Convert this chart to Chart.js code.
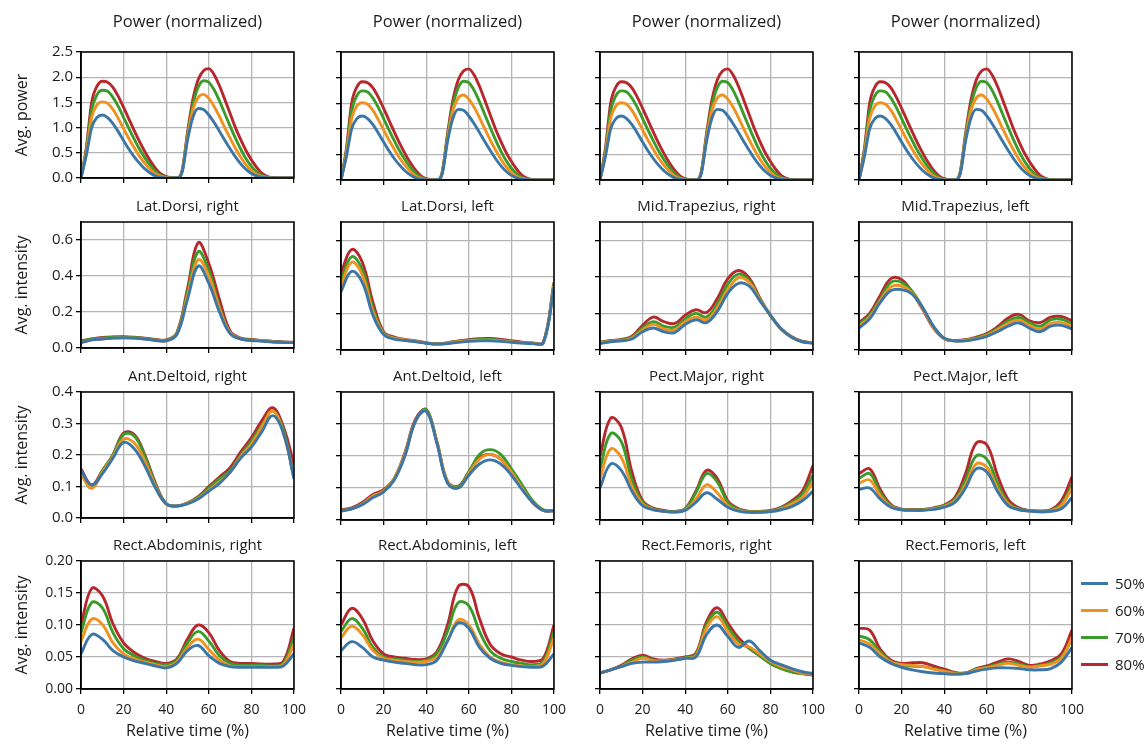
<!DOCTYPE html>
<html><head><meta charset="utf-8">
<script src="https://cdn.jsdelivr.net/npm/chart.js@4.4.1/dist/chart.umd.min.js"></script>
<style>
html,body{margin:0;padding:0;background:#fff;}
body{width:1148px;height:745px;position:relative;overflow:hidden;font-family:'Open Sans','Noto Sans',sans-serif;}
canvas{position:absolute;}
.leg-item{position:absolute;left:1081px;height:20px;display:flex;align-items:center;font-size:15px;color:#1c1c1c;white-space:nowrap;}
.leg-swatch{width:27px;height:3px;margin-right:7px;}
</style></head><body>
<script>
// ---------- series ----------
const SERIES_LABELS = ['50%', '60%', '70%', '80%'];
const SERIES_COLORS = ['#3b76a6', '#ef921f', '#3a9b2b', '#b7282e'];

// ---------- x values ----------
const X_POWER = [0,2.5,5,7.5,10,12.5,15,17.5,20,22.5,25,27.5,30,32.5,35,37.5,40,42.5,45,47.5,50,52.5,55,57.5,60,62.5,65,67.5,70,72.5,75,77.5,80,82.5,85,87.5,90,92.5,95,97.5,100];
const X_MUSCLE = [0,5,10,15,20,25,30,35,40,45,50,55,60,65,70,75,80,85,90,95,100];

// ---------- Power (normalized) ----------
const power50 = [0,0.45,1.0,1.2,1.25,1.2,1.08,0.92,0.74,0.57,0.42,0.29,0.18,0.1,0.04,0.01,0,0,0,0.12,0.75,1.2,1.38,1.36,1.25,1.1,0.93,0.75,0.58,0.42,0.28,0.17,0.09,0.04,0.015,0.005,0,0,0,0,0];
const power60 = [0,0.5,1.2,1.45,1.51,1.48,1.36,1.18,0.98,0.78,0.6,0.43,0.29,0.17,0.08,0.03,0.01,0,0,0.13,0.8,1.35,1.6,1.66,1.58,1.42,1.22,1.0,0.79,0.59,0.41,0.26,0.15,0.07,0.03,0.01,0,0,0,0,0];
const power70 = [0,0.55,1.35,1.65,1.74,1.72,1.6,1.42,1.2,0.98,0.77,0.57,0.4,0.25,0.13,0.05,0.015,0,0,0.14,0.85,1.45,1.8,1.93,1.9,1.75,1.53,1.28,1.03,0.79,0.57,0.38,0.23,0.12,0.05,0.02,0.005,0,0,0,0];
const power80 = [0,0.6,1.5,1.82,1.92,1.9,1.8,1.62,1.4,1.17,0.94,0.72,0.52,0.34,0.19,0.08,0.025,0.005,0,0.15,0.9,1.55,1.95,2.13,2.17,2.05,1.83,1.56,1.28,1.0,0.76,0.54,0.36,0.21,0.09,0.03,0.01,0,0,0,0];

// ---------- Lat.Dorsi, right ----------
const latDorsiR50 = [0.03,0.045,0.05,0.055,0.057,0.055,0.05,0.042,0.04,0.075,0.27,0.455,0.36,0.2,0.08,0.05,0.042,0.038,0.033,0.03,0.03];
const latDorsiR60 = [0.03,0.045,0.05,0.055,0.057,0.055,0.05,0.043,0.04,0.078,0.29,0.49,0.4,0.22,0.085,0.05,0.043,0.04,0.035,0.03,0.03];
const latDorsiR70 = [0.035,0.05,0.055,0.06,0.06,0.058,0.052,0.045,0.042,0.082,0.31,0.535,0.43,0.23,0.085,0.052,0.045,0.04,0.035,0.032,0.03];
const latDorsiR80 = [0.04,0.05,0.058,0.062,0.063,0.06,0.055,0.047,0.045,0.085,0.33,0.585,0.47,0.27,0.095,0.055,0.047,0.042,0.037,0.033,0.032];

// ---------- Lat.Dorsi, left ----------
const latDorsiL50 = [0.32,0.43,0.37,0.19,0.085,0.06,0.052,0.045,0.037,0.032,0.035,0.042,0.047,0.05,0.05,0.047,0.042,0.038,0.035,0.04,0.34];
const latDorsiL60 = [0.35,0.48,0.41,0.21,0.09,0.065,0.055,0.047,0.038,0.032,0.037,0.045,0.05,0.053,0.054,0.05,0.044,0.04,0.036,0.04,0.35];
const latDorsiL70 = [0.38,0.51,0.44,0.23,0.095,0.065,0.055,0.047,0.038,0.033,0.038,0.047,0.053,0.057,0.058,0.053,0.046,0.041,0.037,0.04,0.36];
const latDorsiL80 = [0.42,0.55,0.48,0.26,0.1,0.07,0.058,0.05,0.04,0.034,0.04,0.05,0.057,0.062,0.063,0.058,0.05,0.043,0.038,0.042,0.37];

// ---------- Mid.Trapezius, right ----------
const midTrapR50 = [0.035,0.045,0.05,0.06,0.1,0.12,0.1,0.095,0.14,0.165,0.15,0.21,0.31,0.365,0.35,0.27,0.19,0.115,0.07,0.045,0.038];
const midTrapR60 = [0.038,0.048,0.052,0.065,0.11,0.14,0.115,0.11,0.155,0.18,0.165,0.23,0.33,0.395,0.37,0.275,0.19,0.115,0.07,0.045,0.04];
const midTrapR70 = [0.04,0.05,0.055,0.07,0.12,0.155,0.13,0.125,0.17,0.2,0.18,0.25,0.36,0.415,0.38,0.28,0.19,0.115,0.07,0.046,0.04];
const midTrapR80 = [0.042,0.052,0.058,0.075,0.135,0.18,0.155,0.145,0.19,0.22,0.205,0.28,0.39,0.435,0.395,0.285,0.19,0.117,0.072,0.047,0.04];

// ---------- Mid.Trapezius, left ----------
const midTrapL50 = [0.12,0.17,0.26,0.325,0.33,0.305,0.23,0.13,0.065,0.05,0.05,0.06,0.075,0.1,0.13,0.148,0.12,0.1,0.13,0.135,0.115];
const midTrapL60 = [0.13,0.18,0.27,0.345,0.35,0.31,0.225,0.125,0.063,0.05,0.052,0.063,0.08,0.11,0.145,0.163,0.135,0.115,0.145,0.15,0.13];
const midTrapL70 = [0.14,0.19,0.28,0.37,0.37,0.32,0.23,0.125,0.063,0.05,0.054,0.066,0.084,0.118,0.158,0.178,0.15,0.13,0.165,0.168,0.145];
const midTrapL80 = [0.15,0.2,0.3,0.39,0.385,0.315,0.22,0.12,0.062,0.052,0.056,0.07,0.09,0.127,0.175,0.195,0.16,0.15,0.18,0.183,0.16];

// ---------- Ant.Deltoid, right ----------
const antDeltR50 = [0.15,0.105,0.14,0.19,0.24,0.22,0.165,0.095,0.045,0.038,0.045,0.06,0.085,0.11,0.145,0.19,0.225,0.275,0.325,0.27,0.125];
const antDeltR60 = [0.14,0.095,0.145,0.195,0.25,0.238,0.18,0.1,0.045,0.038,0.047,0.062,0.088,0.115,0.145,0.195,0.235,0.29,0.34,0.27,0.13];
const antDeltR70 = [0.14,0.095,0.15,0.2,0.265,0.26,0.195,0.105,0.045,0.038,0.048,0.065,0.095,0.125,0.15,0.2,0.245,0.295,0.34,0.28,0.125];
const antDeltR80 = [0.155,0.105,0.15,0.2,0.27,0.265,0.2,0.11,0.045,0.038,0.048,0.068,0.1,0.13,0.16,0.21,0.255,0.31,0.35,0.29,0.17];

// ---------- Ant.Deltoid, left ----------
const antDeltL50 = [0.028,0.035,0.048,0.07,0.088,0.125,0.2,0.31,0.34,0.24,0.115,0.1,0.14,0.175,0.188,0.175,0.14,0.095,0.055,0.03,0.028];
const antDeltL60 = [0.03,0.035,0.05,0.075,0.09,0.13,0.205,0.31,0.34,0.245,0.12,0.1,0.145,0.19,0.205,0.19,0.15,0.1,0.055,0.03,0.028];
const antDeltL70 = [0.03,0.035,0.05,0.075,0.09,0.13,0.205,0.31,0.345,0.245,0.12,0.105,0.15,0.205,0.22,0.205,0.16,0.11,0.06,0.032,0.03];
const antDeltL80 = [0.032,0.038,0.055,0.08,0.095,0.13,0.21,0.315,0.345,0.245,0.12,0.105,0.15,0.195,0.205,0.19,0.15,0.1,0.055,0.03,0.03];

// ---------- Pect.Major, right ----------
const pectMajR50 = [0.1,0.175,0.155,0.09,0.045,0.032,0.027,0.025,0.03,0.055,0.085,0.065,0.04,0.028,0.024,0.024,0.026,0.032,0.042,0.06,0.09];
const pectMajR60 = [0.13,0.222,0.195,0.105,0.05,0.033,0.027,0.025,0.032,0.065,0.11,0.085,0.045,0.03,0.025,0.025,0.027,0.035,0.05,0.07,0.12];
const pectMajR70 = [0.16,0.27,0.245,0.125,0.055,0.035,0.028,0.026,0.034,0.085,0.145,0.12,0.055,0.033,0.026,0.026,0.028,0.038,0.055,0.08,0.14];
const pectMajR80 = [0.2,0.318,0.29,0.15,0.06,0.037,0.03,0.027,0.036,0.09,0.155,0.13,0.06,0.035,0.027,0.027,0.03,0.04,0.06,0.09,0.17];

// ---------- Pect.Major, left ----------
const pectMajL50 = [0.095,0.1,0.065,0.04,0.032,0.03,0.03,0.033,0.04,0.055,0.1,0.16,0.15,0.09,0.045,0.032,0.028,0.026,0.027,0.035,0.07];
const pectMajL60 = [0.115,0.125,0.075,0.042,0.032,0.03,0.031,0.035,0.043,0.06,0.11,0.175,0.165,0.1,0.05,0.033,0.028,0.026,0.028,0.045,0.1];
const pectMajL70 = [0.13,0.145,0.085,0.045,0.033,0.031,0.032,0.037,0.045,0.065,0.125,0.2,0.19,0.115,0.055,0.035,0.03,0.027,0.03,0.05,0.11];
const pectMajL80 = [0.145,0.16,0.095,0.048,0.034,0.032,0.033,0.038,0.047,0.07,0.145,0.24,0.235,0.14,0.065,0.038,0.03,0.028,0.032,0.06,0.135];

// ---------- Rect.Abdominis, right ----------
const rectAbdR50 = [0.055,0.085,0.078,0.06,0.05,0.044,0.04,0.036,0.033,0.04,0.06,0.068,0.052,0.04,0.035,0.034,0.034,0.034,0.034,0.036,0.055];
const rectAbdR60 = [0.075,0.109,0.101,0.072,0.055,0.047,0.042,0.038,0.035,0.042,0.065,0.078,0.062,0.045,0.036,0.035,0.035,0.035,0.035,0.038,0.07];
const rectAbdR70 = [0.088,0.135,0.127,0.088,0.063,0.052,0.045,0.04,0.038,0.045,0.072,0.09,0.075,0.052,0.04,0.037,0.037,0.037,0.036,0.04,0.08];
const rectAbdR80 = [0.1,0.157,0.146,0.102,0.072,0.057,0.048,0.043,0.04,0.047,0.078,0.1,0.088,0.06,0.043,0.04,0.04,0.039,0.039,0.043,0.095];

// ---------- Rect.Abdominis, left ----------
const rectAbdL50 = [0.06,0.074,0.065,0.05,0.045,0.042,0.04,0.038,0.038,0.045,0.075,0.103,0.095,0.065,0.048,0.04,0.037,0.035,0.034,0.036,0.055];
const rectAbdL60 = [0.08,0.098,0.085,0.06,0.048,0.045,0.043,0.042,0.043,0.05,0.075,0.108,0.1,0.07,0.05,0.042,0.038,0.036,0.035,0.04,0.08];
const rectAbdL70 = [0.09,0.11,0.095,0.065,0.05,0.047,0.045,0.043,0.045,0.055,0.09,0.135,0.13,0.09,0.06,0.048,0.043,0.04,0.038,0.043,0.09];
const rectAbdL80 = [0.1,0.126,0.11,0.075,0.055,0.05,0.048,0.046,0.047,0.058,0.1,0.16,0.16,0.11,0.07,0.055,0.05,0.045,0.043,0.048,0.1];

// ---------- Rect.Femoris, right ----------
const rectFemR50 = [0.025,0.03,0.035,0.04,0.042,0.042,0.043,0.045,0.048,0.05,0.085,0.1,0.082,0.065,0.075,0.06,0.045,0.038,0.032,0.027,0.024];
const rectFemR60 = [0.025,0.03,0.035,0.042,0.048,0.044,0.044,0.046,0.048,0.052,0.095,0.113,0.09,0.07,0.066,0.055,0.043,0.035,0.03,0.025,0.023];
const rectFemR70 = [0.025,0.03,0.036,0.045,0.05,0.045,0.044,0.046,0.049,0.054,0.1,0.12,0.097,0.075,0.064,0.052,0.04,0.032,0.027,0.024,0.022];
const rectFemR80 = [0.025,0.03,0.037,0.047,0.053,0.047,0.045,0.047,0.05,0.056,0.105,0.127,0.103,0.08,0.064,0.052,0.04,0.032,0.027,0.024,0.022];

// ---------- Rect.Femoris, left ----------
const rectFemL50 = [0.072,0.065,0.05,0.04,0.034,0.03,0.027,0.025,0.024,0.023,0.024,0.028,0.031,0.033,0.033,0.032,0.03,0.03,0.032,0.042,0.065];
const rectFemL60 = [0.077,0.07,0.055,0.042,0.038,0.037,0.035,0.031,0.028,0.024,0.024,0.03,0.033,0.037,0.04,0.037,0.034,0.036,0.039,0.048,0.08];
const rectFemL70 = [0.083,0.077,0.058,0.043,0.038,0.036,0.035,0.032,0.028,0.025,0.025,0.031,0.034,0.039,0.042,0.039,0.035,0.037,0.041,0.05,0.078];
const rectFemL80 = [0.095,0.092,0.062,0.045,0.04,0.041,0.041,0.036,0.031,0.026,0.025,0.032,0.036,0.042,0.047,0.043,0.037,0.039,0.044,0.055,0.092];

// ---------- axes per row ----------
const ROW_Y_MAX = [2.5, 0.7, 0.4, 0.2];
const ROW_Y_STEP = [0.5, 0.2, 0.1, 0.05];
const ROW_Y_DECIMALS = [1, 1, 1, 2];
const ROW_Y_TITLE = ['Avg. power', 'Avg. intensity', 'Avg. intensity', 'Avg. intensity'];
const X_TICK_STEP = 20;
const X_TITLE = 'Relative time (%)';

// ---------- panels (row-major) ----------
const PANEL_TITLES = [
  'Power (normalized)', 'Power (normalized)', 'Power (normalized)', 'Power (normalized)',
  'Lat.Dorsi, right', 'Lat.Dorsi, left', 'Mid.Trapezius, right', 'Mid.Trapezius, left',
  'Ant.Deltoid, right', 'Ant.Deltoid, left', 'Pect.Major, right', 'Pect.Major, left',
  'Rect.Abdominis, right', 'Rect.Abdominis, left', 'Rect.Femoris, right', 'Rect.Femoris, left'
];
const powerSet = [power50, power60, power70, power80];
const PANEL_SERIES = [
  powerSet, powerSet, powerSet, powerSet,
  [latDorsiR50, latDorsiR60, latDorsiR70, latDorsiR80],
  [latDorsiL50, latDorsiL60, latDorsiL70, latDorsiL80],
  [midTrapR50, midTrapR60, midTrapR70, midTrapR80],
  [midTrapL50, midTrapL60, midTrapL70, midTrapL80],
  [antDeltR50, antDeltR60, antDeltR70, antDeltR80],
  [antDeltL50, antDeltL60, antDeltL70, antDeltL80],
  [pectMajR50, pectMajR60, pectMajR70, pectMajR80],
  [pectMajL50, pectMajL60, pectMajL70, pectMajL80],
  [rectAbdR50, rectAbdR60, rectAbdR70, rectAbdR80],
  [rectAbdL50, rectAbdL60, rectAbdL70, rectAbdL80],
  [rectFemR50, rectFemR60, rectFemR70, rectFemR80],
  [rectFemL50, rectFemL60, rectFemL70, rectFemL80]
];

// ---------- layout ----------
const COL_LEFT = [81, 341, 600, 859];
const ROW_TOP = [52, 222, 392, 561];
const PLOT_W = 213, PLOT_H = 128;
const AXIS_W = 78, PAD_R = 20;
const TEXT = '#1c1c1c';
const GRID = '#b5b5b5';

Chart.defaults.font.family = "'Open Sans', 'Noto Sans', sans-serif";
Chart.defaults.color = TEXT;

const framePlugin = {
  id: 'frame',
  afterDatasetsDraw(chart) {
    const {ctx, chartArea: a} = chart;
    ctx.save();
    ctx.strokeStyle = '#000';
    ctx.lineWidth = 1.5;
    ctx.strokeRect(a.left, a.top, a.right - a.left, a.bottom - a.top);
    ctx.restore();
  }
};

function makeCanvas(left, top, w, h) {
  const c = document.createElement('canvas');
  c.width = w; c.height = h;
  c.style.left = left + 'px'; c.style.top = top + 'px';
  c.style.width = w + 'px'; c.style.height = h + 'px';
  document.body.appendChild(c);
  return c;
}

for (let r = 0; r < 4; r++) {
  for (let c = 0; c < 4; c++) {
    const idx = r * 4 + c;
    const isPower = r === 0;
    const xs = isPower ? X_POWER : X_MUSCLE;
    const series = PANEL_SERIES[idx];
    const tPad = isPower ? 42 : 26;
    const titleSize = isPower ? 16.5 : 15;
    const titleBottom = isPower ? 42 - 2 - titleSize * 1.2 : 6;
    const bPad = r === 3 ? 55 : 10;
    const w = AXIS_W + PLOT_W + PAD_R;
    const h = tPad + PLOT_H + bPad;
    const cv = makeCanvas(COL_LEFT[c] - AXIS_W, ROW_TOP[r] - tPad, w, h);
    const dec = ROW_Y_DECIMALS[r];
    new Chart(cv, {
      type: 'line',
      data: {
        datasets: series.map((arr, k) => ({
          label: SERIES_LABELS[k],
          data: xs.map((x, i) => ({x: x, y: arr[i]})),
          borderColor: SERIES_COLORS[k],
          backgroundColor: SERIES_COLORS[k],
          borderWidth: 2.9,
          pointRadius: 0,
          fill: false,
          cubicInterpolationMode: isPower ? 'monotone' : 'default',
          tension: 0.4
        }))
      },
      options: {
        responsive: false,
        animation: false,
        events: [],
        layout: {padding: {left: 0, right: PAD_R, top: 0, bottom: 0}},
        plugins: {
          legend: {display: false},
          tooltip: {enabled: false},
          title: {
            display: true, text: PANEL_TITLES[idx], fullSize: false,
            font: {size: titleSize, weight: 'normal'}, color: TEXT,
            padding: {top: 2, bottom: titleBottom}
          }
        },
        scales: {
          x: {
            type: 'linear', min: 0, max: 100, position: 'bottom',
            ticks: {display: r === 3, stepSize: X_TICK_STEP, padding: 8, font: {size: 14}, color: TEXT, maxRotation: 0, autoSkip: false},
            grid: {color: GRID, lineWidth: 1.3, tickColor: '#000', tickLength: 5, drawTicks: true},
            border: {color: '#000', width: 1.5},
            title: {display: r === 3, text: X_TITLE, font: {size: 16}, color: TEXT, padding: {top: 0, bottom: 3}},
            afterFit(s) { s.height = bPad; }
          },
          y: {
            type: 'linear', min: 0, max: ROW_Y_MAX[r],
            ticks: {display: c === 0, stepSize: ROW_Y_STEP[r], includeBounds: false, padding: 3,
                    font: {size: r === 3 ? 14 : 15}, color: TEXT,
                    callback: v => Number(v).toFixed(dec)},
            grid: {color: GRID, lineWidth: 1.3, tickColor: '#000', tickLength: 5, drawTicks: true},
            border: {color: '#000', width: 1.5},
            title: {display: c === 0, text: ROW_Y_TITLE[r], font: {size: 16}, color: TEXT, padding: {top: 10, bottom: 0}},
            afterFit(s) { s.width = AXIS_W; }
          }
        }
      },
      plugins: [framePlugin]
    });
  }
}

// ---------- legend (HTML, real text) ----------
const LEGEND_FIRST_Y = 583, LEGEND_STEP = 27;
SERIES_LABELS.forEach((lab, k) => {
  const item = document.createElement('div');
  item.className = 'leg-item';
  item.style.top = (LEGEND_FIRST_Y + k * LEGEND_STEP - 10) + 'px';
  const sw = document.createElement('span');
  sw.className = 'leg-swatch';
  sw.style.background = SERIES_COLORS[k];
  const tx = document.createElement('span');
  tx.textContent = lab;
  item.appendChild(sw); item.appendChild(tx);
  document.body.appendChild(item);
});
</script>
</body></html>
